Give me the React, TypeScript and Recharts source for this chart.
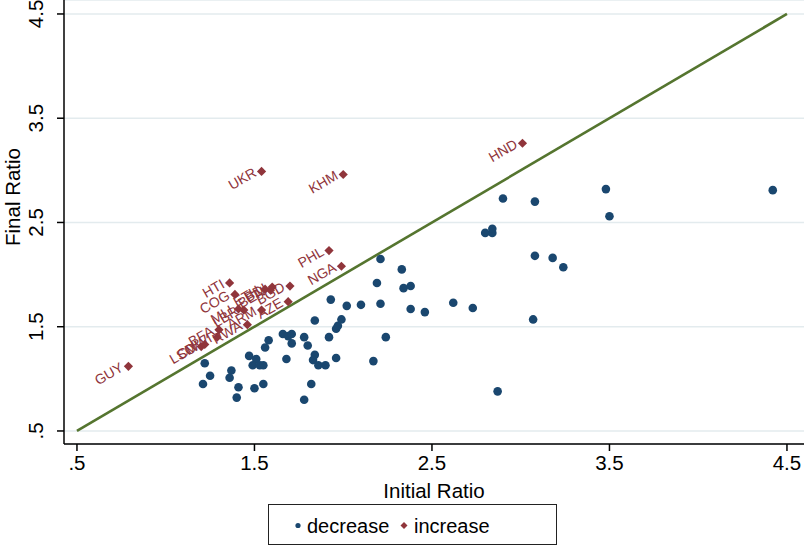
import {
  CartesianGrid,
  Legend,
  ReferenceLine,
  Scatter,
  ScatterChart,
  XAxis,
  YAxis,
} from "recharts";

const FONT = '"Liberation Sans", Arial, Helvetica, sans-serif';
const NAVY = "#1a476f";
const MAROON = "#90353b";
const GREEN = "#55752f";
const GRID = "#e3ebee";
const FS = 20.5;

const ticks = [0.5, 1.5, 2.5, 3.5, 4.5];
const xDomain = [0.427, 4.596];
const yDomain = [0.375, 4.634];
const diagonal = [0.5, 4.5];

// countries whose ratio went down
const decreaseInitial = [
  1.22, 1.25, 1.21, 1.37, 1.36, 1.41, 1.4, 1.47, 1.51, 1.49, 1.53, 1.55, 1.5,
  1.55, 1.56, 1.58, 1.66, 1.69, 1.71, 1.71, 1.68, 1.78, 1.8, 1.84, 1.83, 1.86,
  1.9, 1.82, 1.78, 1.84, 1.92, 1.96, 1.96, 1.97, 1.99, 1.93, 2.02, 2.1, 2.21,
  2.19, 2.21, 2.33, 2.34, 2.38, 2.38, 2.46, 2.62, 2.73, 2.24, 2.17, 2.9, 3.08,
  2.8, 2.84, 2.84, 3.08, 3.18, 3.24, 3.07, 3.48, 3.5, 4.42, 2.87,
];
const decreaseFinal = [
  1.15, 1.03, 0.95, 1.08, 1.01, 0.92, 0.82, 1.22, 1.19, 1.13, 1.13, 1.13, 0.91,
  0.95, 1.3, 1.37, 1.43, 1.41, 1.43, 1.34, 1.19, 1.4, 1.32, 1.23, 1.18, 1.13,
  1.13, 0.95, 0.8, 1.56, 1.4, 1.2, 1.48, 1.51, 1.57, 1.76, 1.7, 1.71, 1.72,
  1.92, 2.15, 2.05, 1.87, 1.89, 1.67, 1.64, 1.73, 1.68, 1.4, 1.17, 2.73, 2.7,
  2.4, 2.4, 2.44, 2.18, 2.16, 2.07, 1.57, 2.82, 2.56, 2.81, 0.88,
];

// countries whose ratio went up
const increaseCodes = [
  "GUY", "LSO", "CIV", "MWI", "BFA", "RWA", "ARM", "MLI", "LBR", "COG", "HTI",
  "ETH", "BEN", "BDI", "BGD", "AZE", "PHL", "NGA", "UKR", "KHM", "HND",
];
const increaseInitial = [
  0.79, 1.2, 1.22, 1.29, 1.3, 1.46, 1.54, 1.41, 1.44, 1.39, 1.36, 1.56, 1.59,
  1.6, 1.7, 1.69, 1.92, 1.99, 1.54, 2.0, 3.01,
];
const increaseFinal = [
  1.12, 1.31, 1.33, 1.4, 1.47, 1.52, 1.66, 1.67, 1.66, 1.81, 1.92, 1.86, 1.85,
  1.88, 1.89, 1.74, 2.23, 2.08, 2.99, 2.96, 3.26,
];

const decreaseData = decreaseInitial.map((x, i) => ({ x, y: decreaseFinal[i] }));
const increaseData = increaseCodes.map((code, i) => ({
  code,
  x: increaseInitial[i],
  y: increaseFinal[i],
}));

const fmt = (v: number) => (v === 0.5 ? ".5" : v.toFixed(1));

const Dot = (props: any) => <circle cx={props.cx} cy={props.cy} r={4.3} fill={NAVY} />;

const LabeledDiamond = (props: any) => {
  const { cx, cy, payload } = props;
  const r = 4.6;
  const tx = cx - 4;
  const ty = cy + 4;
  return (
    <g>
      <polygon
        points={`${cx},${cy - r} ${cx + r},${cy} ${cx},${cy + r} ${cx - r},${cy}`}
        fill={MAROON}
      />
      <text
        x={tx}
        y={ty}
        textAnchor="end"
        fill={MAROON}
        fontSize={14}
        fontFamily={FONT}
        transform={`rotate(-30, ${tx}, ${ty})`}
      >
        {payload.code}
      </text>
    </g>
  );
};

const YTick = (props: any) => {
  const { y, payload } = props;
  return (
    <text
      x={36}
      y={y}
      textAnchor="middle"
      dominantBaseline="central"
      fontSize={FS}
      fontFamily={FONT}
      fill="#000"
      transform={`rotate(-90, 36, ${y})`}
    >
      {fmt(payload.value)}
    </text>
  );
};

const LegendBox = () => (
  <div
    style={{
      position: "relative",
      boxSizing: "border-box",
      width: 289,
      height: 41,
      border: "1.3px solid #222",
      background: "#fff",
    }}
  >
    <svg width={289} height={41} style={{ position: "absolute", left: -1, top: -1 }}>
      <circle cx={30} cy={21.5} r={2.6} fill={NAVY} />
      <polygon points="136,18 139.5,21.5 136,25 132.5,21.5" fill={MAROON} />
      <text x={39} y={29} fontSize={20} fontFamily={FONT} fill="#000">
        decrease
      </text>
      <text x={146} y={29} fontSize={20} fontFamily={FONT} fill="#000">
        increase
      </text>
    </svg>
  </div>
);

export default function App() {
  return (
    <div style={{ position: "absolute", left: 0, top: 0, width: 804, height: 552, background: "#fff" }}>
      <ScatterChart
        width={804}
        height={552}
        margin={{ top: 0, right: 0, bottom: 52, left: 0 }}
        style={{ fontFamily: FONT }}
      >
        <CartesianGrid horizontal vertical={false} stroke={GRID} strokeWidth={1.5} />
        <XAxis
          type="number"
          dataKey="x"
          domain={xDomain}
          ticks={ticks}
          allowDataOverflow
          height={56}
          tickSize={7}
          tickMargin={4}
          stroke="#000"
          strokeWidth={1.5}
          tick={{ fill: "#000", fontSize: FS, fontFamily: FONT }}
          tickFormatter={fmt}
          label={{
            value: "Initial Ratio",
            position: "insideBottom",
            offset: 2,
            fill: "#000",
            fontSize: FS,
            fontFamily: FONT,
          }}
        />
        <YAxis
          type="number"
          dataKey="y"
          domain={yDomain}
          ticks={ticks}
          allowDataOverflow
          width={64}
          tickSize={7}
          stroke="#000"
          strokeWidth={1.5}
          tick={<YTick />}
          label={{
            content: () => (
              <text
                x={12}
                y={197}
                textAnchor="middle"
                dominantBaseline="central"
                fontSize={FS}
                fontFamily={FONT}
                fill="#000"
                transform="rotate(-90, 12, 197)"
              >
                Final Ratio
              </text>
            ),
          }}
        />
        <Scatter
          name="decrease"
          data={decreaseData}
          shape={<Dot />}
          isAnimationActive={false}
        />
        <Scatter
          name="increase"
          data={increaseData}
          shape={<LabeledDiamond />}
          isAnimationActive={false}
        />
        <ReferenceLine
          segment={[
            { x: diagonal[0], y: diagonal[0] },
            { x: diagonal[1], y: diagonal[1] },
          ]}
          stroke={GREEN}
          strokeWidth={2.6}
          ifOverflow="visible"
        />
        <Legend
          layout="horizontal"
          verticalAlign="middle"
          content={() => <LegendBox />}
          wrapperStyle={{ left: 268, top: 504, width: 289, height: 41 }}
        />
      </ScatterChart>
    </div>
  );
}
